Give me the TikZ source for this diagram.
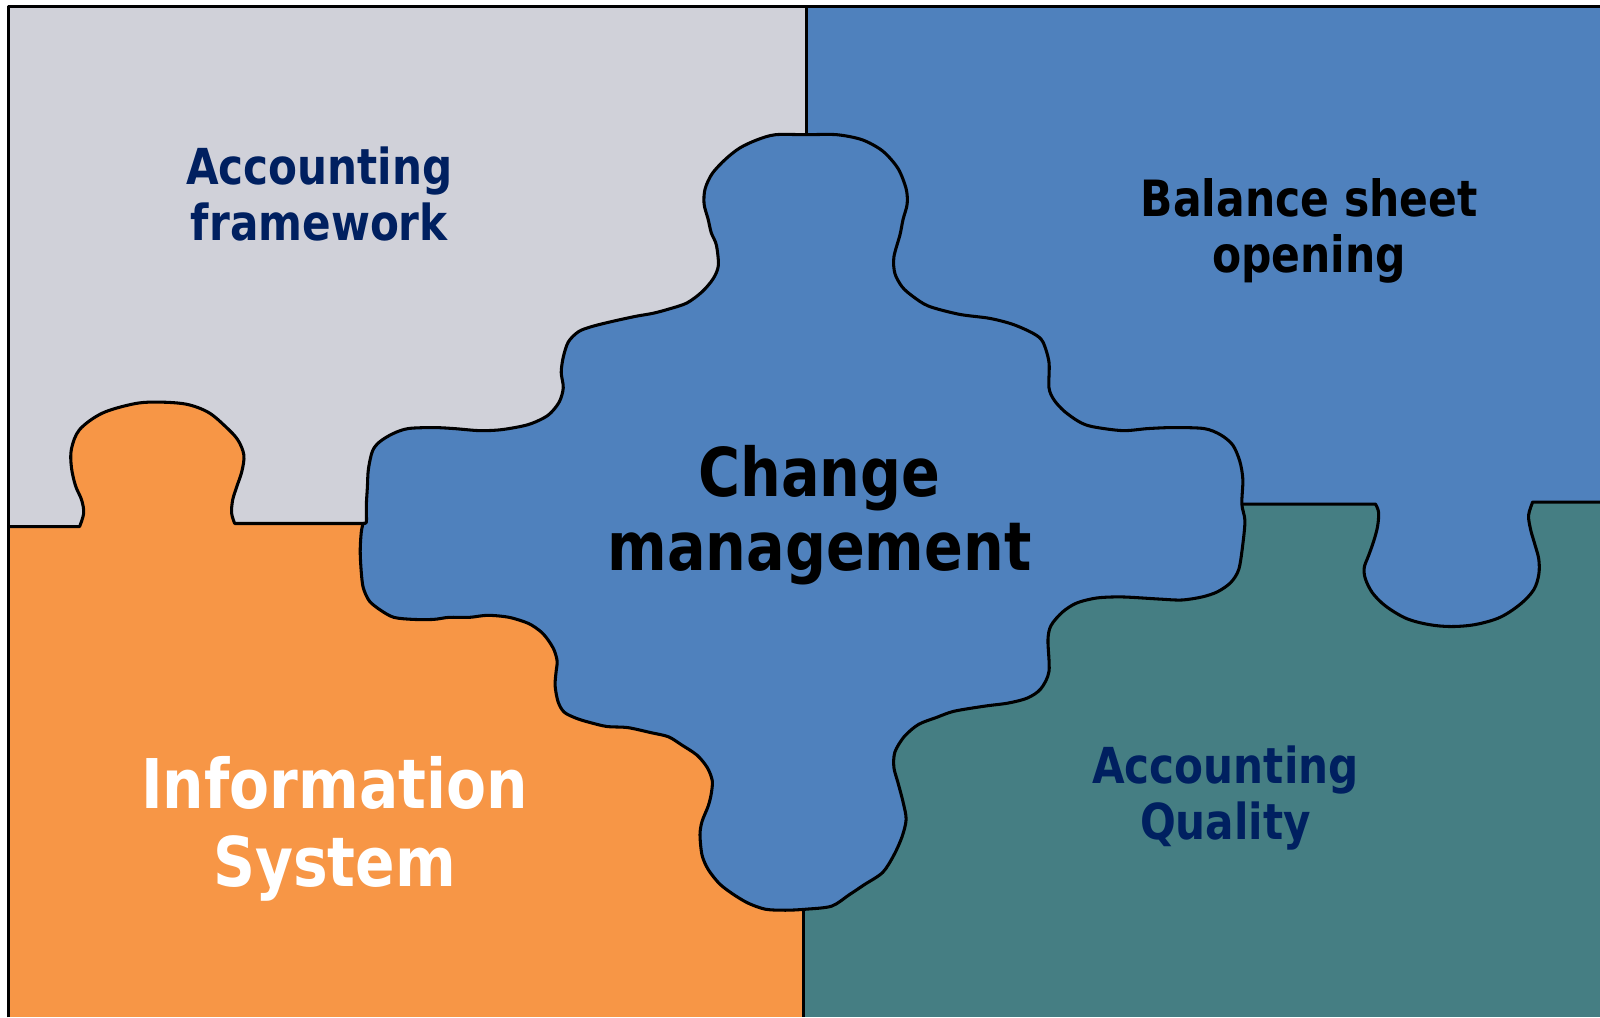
\documentclass[tikz,border=0pt]{standalone}
\usepackage{fontspec}
\setmainfont{DejaVu Sans}[FakeStretch=0.85]
\definecolor{pgray}{HTML}{D0D1D9}
\definecolor{pblue}{HTML}{4F81BD}
\definecolor{porange}{HTML}{F79646}
\definecolor{pteal}{HTML}{457E83}
\definecolor{pnavy}{HTML}{002060}
\begin{document}
\begin{tikzpicture}[x=0.5pt,y=-0.5pt,
  edge/.style={draw=black,line width=1.5pt,line join=round},
  lab/.style={align=center,font=\bfseries,inner sep=0pt}]
\useasboundingbox (0,0) rectangle (1568,997);
\fill[white] (0,0) rectangle (1568,997);
% quadrants
\fill[pgray] (8,6) rectangle (791,515);
\fill[pblue] (789,6) rectangle (1568,494);
\fill[porange] (8,516) rectangle (789,997);
\fill[porange] (78,513) rectangle (789,517);
\fill[pteal] (786,493) rectangle (1568,997);
% orange tab
\fill[porange] (78,520) -- (78,516) -- plot[smooth,tension=0.55] coordinates {(78,516) (82,503) (80,490) (74,476) (70,458) (70,440) (78,421) (100,405) (130,396) (152,394) (182,396) (204,404) (221,418) (233,431) (239,446) (237,462) (232,477) (228,490) (227,503) (230,513)} -- (230,520) -- cycle;
\draw[edge] (8,516) -- (78,516) -- plot[smooth,tension=0.55] coordinates {(78,516) (82,503) (80,490) (74,476) (70,458) (70,440) (78,421) (100,405) (130,396) (152,394) (182,396) (204,404) (221,418) (233,431) (239,446) (237,462) (232,477) (228,490) (227,503) (230,513)} -- (360,513);
% blue tab into teal
\fill[pblue] (1348,488) -- (1348,494) -- plot[smooth,tension=0.55] coordinates {(1348,494) (1351,502) (1350,516) (1346,531) (1341,545) (1337,556) (1338,567) (1345,581) (1358,594) (1378,606) (1400,612) (1422,614) (1446,612) (1470,605) (1490,592) (1503,578) (1508,563) (1508,548) (1504,533) (1500,519) (1498,505) (1502,492)} -- (1502,488) -- cycle;
\draw[edge] (1218,494) -- (1348,494) -- plot[smooth,tension=0.55] coordinates {(1348,494) (1351,502) (1350,516) (1346,531) (1341,545) (1337,556) (1338,567) (1345,581) (1358,594) (1378,606) (1400,612) (1422,614) (1446,612) (1470,605) (1490,592) (1503,578) (1508,563) (1508,548) (1504,533) (1500,519) (1498,505) (1502,492)} -- (1568,492);
% dividers
\draw[edge] (790,6) -- (790,132);
\draw[edge] (787,891) -- (787,997);
% central piece
\filldraw[edge,fill=pblue] plot[smooth cycle,tension=0.5] coordinates {
(760,132) (790,132) (820,132) (845,137) (865,148) (880,165) (888,185) (889,200) (885,215) (882,230) (876,252) (877,268) (884,281) (894,290) (910,300) (940,308) (970,312) (993,318) (1013,327) (1022,335) (1028,355) (1028,380) (1033,392) (1043,403) (1057,413) (1070,418) (1100,422) (1125,420) (1150,419) (1180,420) (1196,426) (1208,436) (1215,452) (1218,470) (1217,494) (1220,510) (1218,533) (1214,558) (1206,571) (1193,580) (1178,585) (1158,588) (1135,587) (1100,585) (1075,586) (1055,591) (1041,600) (1030,613) (1027,627) (1028,658) (1020,675) (1007,684) (988,689) (965,692) (935,697) (918,703) (900,710) (886,722) (877,737) (876,752) (880,767) (885,786) (888,803) (884,820) (876,838) (865,855) (847,867) (832,877) (815,888) (790,891) (770,892) (750,891) (733,885) (718,876) (705,866) (694,852) (688,838) (686,818) (688,805) (694,790) (697,778) (698,765) (693,752) (683,740) (668,730) (655,722) (638,718) (615,713) (595,712) (578,708) (565,704) (553,698) (547,688) (544,672) (545,658) (546,648) (543,637) (537,627) (530,619) (518,611) (499,605) (478,603) (460,605) (440,605) (425,607) (405,607) (386,605) (373,598) (362,589) (356,576) (354,560) (353,540) (354,522) (356,513) (359,512) (359,495) (360,478) (361,460) (365,442) (372,433) (385,425) (400,420) (425,419) (445,420) (470,422) (492,421) (518,416) (537,407) (548,394) (552,380) (550,365) (552,350) (557,335) (567,325) (580,320) (600,315) (623,310) (640,307) (655,303) (673,297) (688,286) (699,273) (704,260) (702,240) (697,228) (694,215) (690,200) (691,185) (698,170) (711,156) (725,145) (742,137)};
% outer frame
\draw[edge] (8,997) -- (8,6) -- (1568,6);
% labels
\node[lab,text=pnavy,font=\bfseries\fontsize{24.3}{27.5}\selectfont] (af) at (313,190) {Accounting\\framework};
\node[lab,text=black,font=\bfseries\fontsize{24.5}{27.5}\selectfont] (bs) at (1283,226) {Balance sheet\\opening};
\node[lab,text=black,font=\bfseries\fontsize{33}{36.5}\selectfont] (cm) at (803,505) {Change\\management};
\node[lab,text=white,font=\bfseries\fontsize{33.6}{38}\selectfont] (is) at (328,812) {Information\\System};
\node[lab,text=pnavy,font=\bfseries\fontsize{24.3}{27.5}\selectfont] (aq) at (1201,782) {Accounting\\Quality};
\end{tikzpicture}
\end{document}
